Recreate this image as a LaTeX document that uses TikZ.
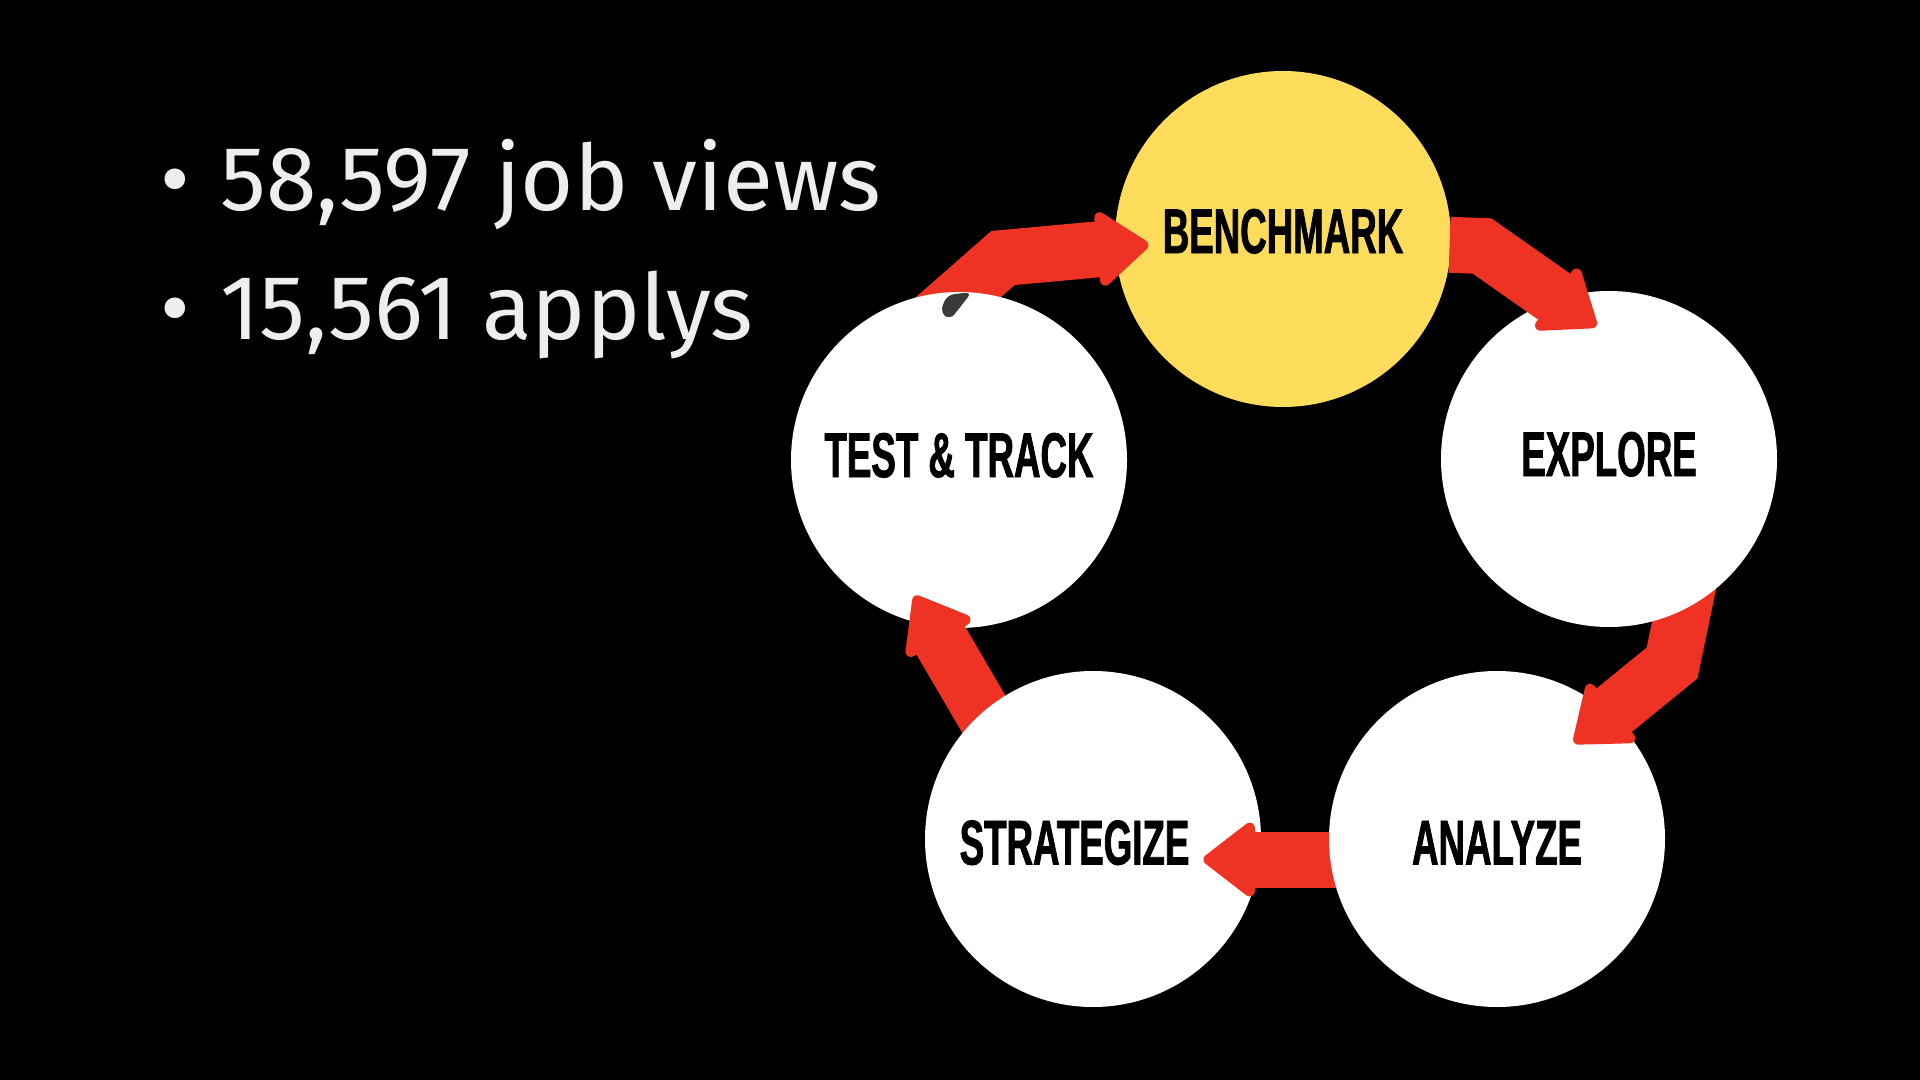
\documentclass[tikz,border=0pt]{standalone}
\usepackage{fontspec}
\usepackage{tikz}
\usetikzlibrary{arrows.meta, positioning}
\newfontfamily\stagefont[FakeStretch=0.58, FakeBold=1.2]{Liberation Sans}
\newfontfamily\notefont{Fira Sans}
\definecolor{cred}{HTML}{EE3224}
\definecolor{cyellow}{HTML}{FDDC5C}
\definecolor{cshade}{HTML}{3A3A3A}
\definecolor{cnote}{HTML}{EEEEEE}
\pgfdeclarelayer{canvas}
\pgfdeclarelayer{benchL}
\pgfdeclarelayer{flowA}
\pgfdeclarelayer{testL}
\pgfdeclarelayer{flowE}
\pgfdeclarelayer{stratL}
\pgfdeclarelayer{flowD}
\pgfdeclarelayer{analyzeL}
\pgfdeclarelayer{flowC}
\pgfdeclarelayer{exploreL}
\pgfsetlayers{canvas,benchL,flowA,testL,flowE,stratL,flowD,analyzeL,flowC,exploreL,main}
\tikzset{
  stage/.style={circle, fill=white, minimum size=3.36cm, inner sep=0pt,
                font=\stagefont\bfseries\fontsize{18}{20}\selectfont, text=black,
                text depth=0.1cm},
  hotstage/.style={stage, fill=cyellow, text depth=0.16cm},
  lowstage/.style={stage, text depth=0cm, text height=0.51cm},
  flow/.style={line width=0.56cm, cred,
               -{Triangle[width=0.82cm, length=0.55cm, line width=3pt, round]}},
  note/.style={anchor=base west, inner sep=0pt, text=cnote,
               font=\notefont\fontsize{26}{30}\selectfont},
}

\begin{document}
\begin{tikzpicture}
  % canvas
  \begin{pgfonlayer}{canvas}
    \fill[black] (0,0) rectangle (19.2,-10.8);
  \end{pgfonlayer}

  % figures
  \node[note] (views) at (1.60,-2.11) {•\hspace{0.3cm}58,597 job views};
  \node[note] (applys) at (1.60,-3.40) {•\hspace{0.3cm}15,561 applys};

  % the five stages, each on its own layer
  \begin{pgfonlayer}{benchL}
    \node[hotstage] (bench) at (12.83,-2.39) {BENCHMARK};
  \end{pgfonlayer}
  \begin{pgfonlayer}{exploreL}
    \node[stage] (explore) at (16.09,-4.59) {EXPLORE};
  \end{pgfonlayer}
  \begin{pgfonlayer}{analyzeL}
    \node[lowstage] (analyze) at (14.97,-8.39) {ANALYZE};
  \end{pgfonlayer}
  \begin{pgfonlayer}{stratL}
    \node[lowstage] (strat) at (10.93,-8.39) {STRATEGIZE\hspace*{0.37cm}};
  \end{pgfonlayer}
  \begin{pgfonlayer}{testL}
    \node[stage] (test) at (9.59,-4.60) {TEST \& TRACK};
    % curled tail
    \fill[cshade, rounded corners=2pt]
      (9.40,-3.12) -- (9.47,-2.95) -- (9.72,-2.92) -- (9.50,-3.20) -- cycle;
  \end{pgfonlayer}

  % bends of the arrows
  \coordinate (b1) at (10.03,-2.58);
  \coordinate (b2) at (14.82,-2.46);
  \coordinate (b3) at (16.72,-6.63);

  % arrows, each one tucked under the circle it leaves
  \begin{pgfonlayer}{flowA}
    \draw[flow, shorten <=-0.45cm, shorten >=-0.34cm] (test.88) -- (b1) -- (bench.183);
  \end{pgfonlayer}
  \draw[flow, shorten <=-0.02cm, shorten >=-0.48cm] (bench.-2) -- (b2) -- (explore.108.5);
  \begin{pgfonlayer}{flowC}
    \draw[flow, shorten <=-0.4cm, shorten >=-0.46cm] (explore.-64) -- (b3) -- (analyze.48);
  \end{pgfonlayer}
  \begin{pgfonlayer}{flowD}
    \draw[flow, shorten <=-0.3cm, shorten >=-0.57cm] (analyze.187) -- (strat.-7);
  \end{pgfonlayer}
  \begin{pgfonlayer}{flowE}
    \draw[flow, shorten <=-0.4cm, shorten >=-0.355cm] (strat.131) -- (test.-99);
  \end{pgfonlayer}
\end{tikzpicture}
\end{document}
